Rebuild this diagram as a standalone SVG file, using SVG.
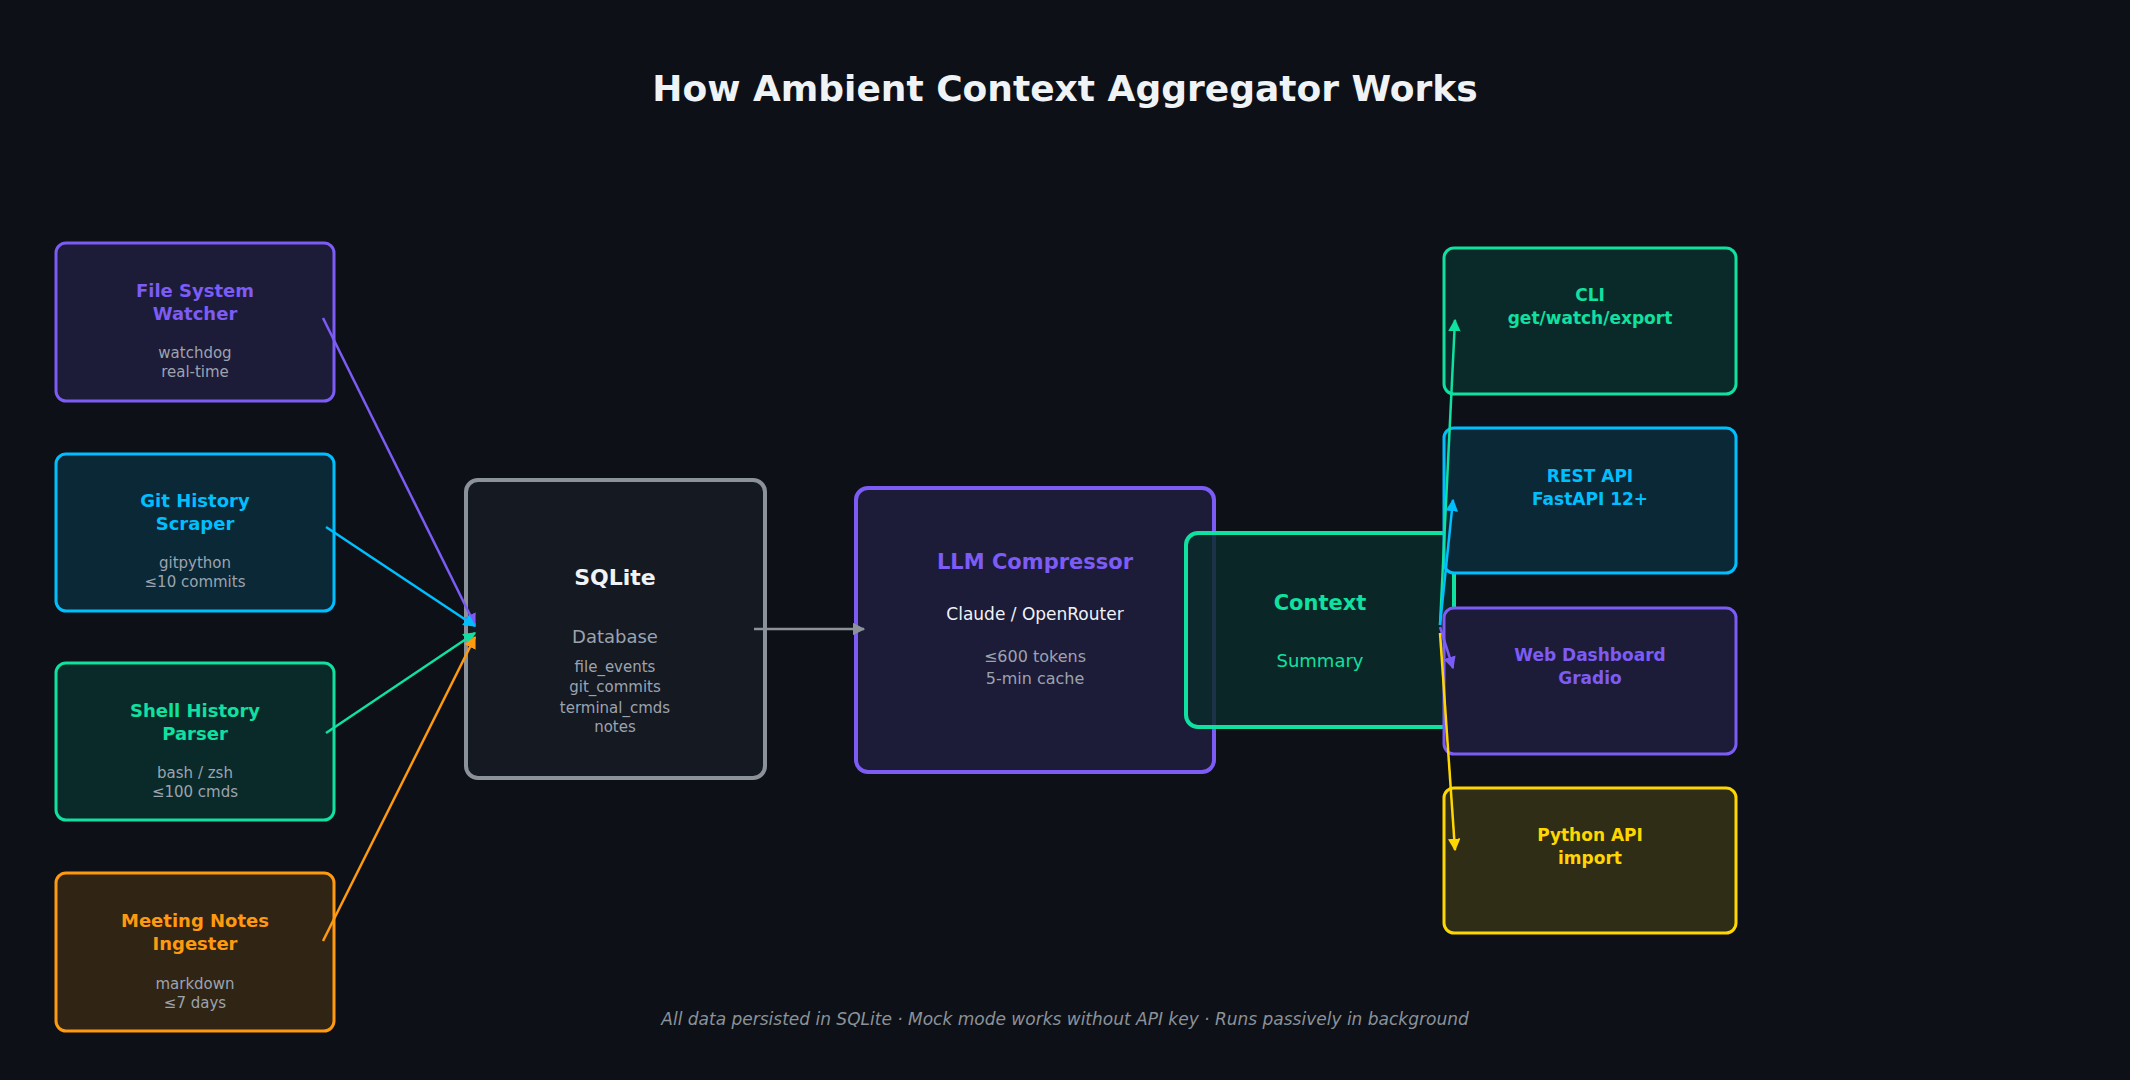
<svg xmlns="http://www.w3.org/2000/svg" width="2130" height="1080" viewBox="0 0 2130 1080">
<defs>
<style>
text{font-family:"DejaVu Sans","Noto Sans",sans-serif;text-anchor:middle}
.t{font-weight:bold;font-size:18px}
.s{font-size:15px;fill:#9ca3af}
.o{font-weight:bold;font-size:17px}
.c{fill:none;stroke-width:2.5}
</style>
<marker id="aP" viewBox="0 0 10 10" refX="9" refY="5" markerWidth="5" markerHeight="5" orient="auto"><path d="M0,0L10,5L0,10z" fill="#7c5cf5"/></marker>
<marker id="aB" viewBox="0 0 10 10" refX="9" refY="5" markerWidth="5" markerHeight="5" orient="auto"><path d="M0,0L10,5L0,10z" fill="#00bfff"/></marker>
<marker id="aG" viewBox="0 0 10 10" refX="9" refY="5" markerWidth="5" markerHeight="5" orient="auto"><path d="M0,0L10,5L0,10z" fill="#10e0a0"/></marker>
<marker id="aO" viewBox="0 0 10 10" refX="9" refY="5" markerWidth="5" markerHeight="5" orient="auto"><path d="M0,0L10,5L0,10z" fill="#ff9a10"/></marker>
<marker id="aY" viewBox="0 0 10 10" refX="9" refY="5" markerWidth="5" markerHeight="5" orient="auto"><path d="M0,0L10,5L0,10z" fill="#ffd700"/></marker>
<marker id="aW" viewBox="0 0 10 10" refX="9" refY="5" markerWidth="5" markerHeight="5" orient="auto"><path d="M0,0L10,5L0,10z" fill="#8b9299"/></marker>
</defs>
<rect width="2130" height="1080" fill="#0d1017"/>
<text x="1065" y="101" style="font-size:36px;font-weight:bold;fill:#f0f3f6">How Ambient Context Aggregator Works</text>

<g id="fs"><rect x="56" y="243" width="278" height="158" rx="10" fill="#1c1b38" stroke="#7c5cf5" stroke-width="3"/>
<text class="t" x="195" y="297" fill="#7c5cf5">File System</text><text class="t" x="195" y="320" fill="#7c5cf5">Watcher</text>
<text class="s" x="195" y="358">watchdog</text><text class="s" x="195" y="377">real-time</text></g>
<g id="git"><rect x="56" y="454" width="278" height="157" rx="10" fill="#0b2836" stroke="#00bfff" stroke-width="3"/>
<text class="t" x="195" y="507" fill="#00bfff">Git History</text><text class="t" x="195" y="530" fill="#00bfff">Scraper</text>
<text class="s" x="195" y="568">gitpython</text><text class="s" x="195" y="587">≤10 commits</text></g>
<g id="shell"><rect x="56" y="663" width="278" height="157" rx="10" fill="#0a2a2a" stroke="#10e0a0" stroke-width="3"/>
<text class="t" x="195" y="717" fill="#10e0a0">Shell History</text><text class="t" x="195" y="740" fill="#10e0a0">Parser</text>
<text class="s" x="195" y="778">bash / zsh</text><text class="s" x="195" y="797">≤100 cmds</text></g>
<g id="meet"><rect x="56" y="873" width="278" height="158" rx="10" fill="#302414" stroke="#ff9a10" stroke-width="3"/>
<text class="t" x="195" y="927" fill="#ff9a10">Meeting Notes</text><text class="t" x="195" y="950" fill="#ff9a10">Ingester</text>
<text class="s" x="195" y="989">markdown</text><text class="s" x="195" y="1008">≤7 days</text></g>

<g id="sqlite"><rect x="466" y="480" width="299" height="298" rx="12" fill="#151922" stroke="#8b9299" stroke-width="4"/>
<text x="615" y="585" style="font-size:22px;font-weight:bold;fill:#f0f3f6">SQLite</text>
<text x="615" y="643" style="font-size:18px;fill:#9ca3af">Database</text>
<text class="s" x="615" y="672">file_events</text><text class="s" x="615" y="692">git_commits</text>
<text class="s" x="615" y="713">terminal_cmds</text><text class="s" x="615" y="732">notes</text></g>

<g id="llm"><rect x="856" y="488" width="358" height="284" rx="12" fill="#1c1b38" stroke="#7c5cf5" stroke-width="4"/>
<text x="1035" y="569" style="font-size:21px;font-weight:bold;fill:#7c5cf5">LLM Compressor</text>
<text x="1035" y="620" style="font-size:17px;fill:#f0f3f6">Claude / OpenRouter</text>
<text class="s" x="1035" y="662" style="font-size:16px">≤600 tokens</text><text class="s" x="1035" y="684" style="font-size:16px">5-min cache</text></g>

<g id="ctx"><rect x="1186" y="533" width="268" height="194" rx="12" fill="#0a2a2a" fill-opacity="0.85" stroke="#10e0a0" stroke-width="4"/>
<text x="1320" y="610" style="font-size:21px;font-weight:bold;fill:#10e0a0">Context</text>
<text x="1320" y="667" style="font-size:18px;fill:#10e0a0">Summary</text></g>

<g id="cli"><rect x="1444" y="248" width="292" height="146" rx="10" fill="#0a2a2a" stroke="#10e0a0" stroke-width="3"/>
<text class="o" x="1590" y="301" fill="#10e0a0">CLI</text><text class="o" x="1590" y="324" fill="#10e0a0">get/watch/export</text></g>
<g id="rest"><rect x="1444" y="428" width="292" height="145" rx="10" fill="#0b2836" stroke="#00bfff" stroke-width="3"/>
<text class="o" x="1590" y="482" fill="#00bfff">REST API</text><text class="o" x="1590" y="505" fill="#00bfff">FastAPI 12+</text></g>
<g id="web"><rect x="1444" y="608" width="292" height="146" rx="10" fill="#1c1b38" stroke="#7c5cf5" stroke-width="3"/>
<text class="o" x="1590" y="661" fill="#7c5cf5">Web Dashboard</text><text class="o" x="1590" y="684" fill="#7c5cf5">Gradio</text></g>
<g id="py"><rect x="1444" y="788" width="292" height="145" rx="10" fill="#302d16" stroke="#ffd700" stroke-width="3"/>
<text class="o" x="1590" y="841" fill="#ffd700">Python API</text><text class="o" x="1590" y="864" fill="#ffd700">import</text></g>

<g id="connectors">
<line class="c" x1="323" y1="318" x2="475" y2="625" stroke="#7c5cf5" marker-end="url(#aP)"/>
<line class="c" x1="326" y1="527" x2="475" y2="626" stroke="#00bfff" marker-end="url(#aB)"/>
<line class="c" x1="326" y1="733" x2="475" y2="633" stroke="#10e0a0" marker-end="url(#aG)"/>
<line class="c" x1="323" y1="941" x2="475" y2="637" stroke="#ff9a10" marker-end="url(#aO)"/>
<line class="c" x1="754" y1="629" x2="864" y2="629" stroke="#8b9299" stroke-width="3" marker-end="url(#aW)"/>
<line class="c" x1="1440" y1="625" x2="1455" y2="320" stroke="#10e0a0" marker-end="url(#aG)"/>
<line class="c" x1="1440" y1="625" x2="1453" y2="500" stroke="#00bfff" marker-end="url(#aB)"/>
<line class="c" x1="1440" y1="627" x2="1453" y2="668" stroke="#7c5cf5" marker-end="url(#aP)"/>
<line class="c" x1="1440" y1="633" x2="1455" y2="850" stroke="#ffd700" marker-end="url(#aY)"/>
</g>

<text x="1065" y="1025" style="font-size:17px;font-style:italic;fill:#8b9299">All data persisted in SQLite · Mock mode works without API key · Runs passively in background</text>
</svg>
